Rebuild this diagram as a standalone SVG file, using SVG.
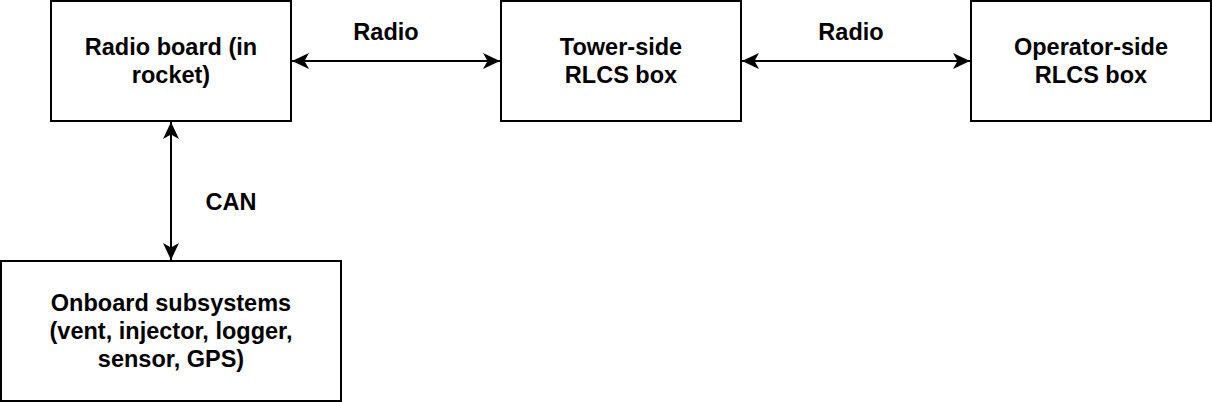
<svg xmlns="http://www.w3.org/2000/svg" width="1212" height="402" viewBox="0 0 1212 402">
<defs>
<marker id="arr" viewBox="0 0 17 16" refX="17" refY="8" markerWidth="17" markerHeight="16" markerUnits="userSpaceOnUse" orient="auto-start-reverse">
<path d="M17 8 L0 0 L4.5 8 L0 16 Z" fill="#000"/>
</marker>
</defs>
<style>
.box{fill:#fff;stroke:#000;stroke-width:2}
.t{font-family:"Liberation Sans",Arial,Helvetica,sans-serif;font-weight:bold;font-size:23.5px;fill:#000;text-anchor:middle}
.c{fill:none;stroke:#000;stroke-width:2;marker-start:url(#arr);marker-end:url(#arr)}
</style>
<rect width="1212" height="402" fill="#fff"/>
<g id="radio-board">
<rect class="box" x="51" y="1" width="240" height="120"/>
<text class="t" x="171" y="55">Radio board (in</text>
<text class="t" x="171" y="83">rocket)</text>
</g>
<g id="tower-side">
<rect class="box" x="501" y="1" width="240" height="120"/>
<text class="t" x="621" y="55">Tower-side</text>
<text class="t" x="621" y="83">RLCS box</text>
</g>
<g id="operator-side">
<rect class="box" x="971" y="1" width="240" height="120"/>
<text class="t" x="1091" y="55">Operator-side</text>
<text class="t" x="1091" y="83">RLCS box</text>
</g>
<g id="onboard">
<rect class="box" x="1" y="261" width="340" height="140"/>
<text class="t" x="171" y="311">Onboard subsystems</text>
<text class="t" x="171" y="339">(vent, injector, logger,</text>
<text class="t" x="171" y="367">sensor, GPS)</text>
</g>
<g id="connectors">
<line class="c" x1="292" y1="61" x2="500" y2="61"/>
<line class="c" x1="742" y1="61" x2="970" y2="61"/>
<line class="c" x1="171" y1="122" x2="171" y2="260"/>
<text class="t" x="386" y="40">Radio</text>
<text class="t" x="851" y="40">Radio</text>
<text class="t" x="231" y="210">CAN</text>
</g>
</svg>
